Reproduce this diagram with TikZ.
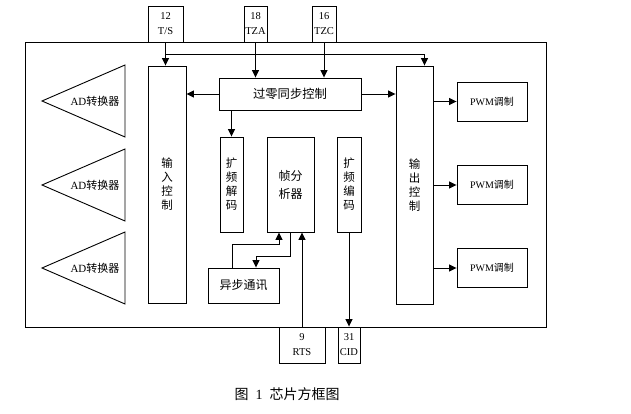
\documentclass[tikz,border=0pt]{standalone}
\usepackage{fontspec}
\setmainfont{Liberation Serif}
\newfontfamily\cjk{Noto Sans CJK SC}
\usetikzlibrary{arrows.meta, calc}

\begin{document}
\begin{tikzpicture}[x=1pt, y=-1pt,
    line width=0.9pt,
    blk/.style={draw, inner sep=0pt, align=center, font=\cjk\fontsize{11.5}{14}\selectfont},
    pin/.style={draw, inner sep=0pt, align=center, minimum height=36pt, font=\fontsize{10.5}{15}\selectfont},
    arr/.style={-{Triangle[length=7.5pt, width=7pt]}}]
    \useasboundingbox (0,0) rectangle (631,414);

    % Chip border
    \draw (25,42) rectangle (546,327);

    % Pins
    \node[pin, minimum width=35pt] (ts)  at (165.5,24) {12\\T/S};
    \node[pin, minimum width=23pt] (tza) at (255.5,24) {18\\TZA};
    \node[pin, minimum width=24pt] (tzc) at (324,24)   {16\\TZC};
    \node[pin, minimum width=46pt] (rts) at (302,345)  {9\\RTS};
    \node[pin, minimum width=22pt] (cid) at (349,345)  {31\\CID};

    % AD converters
    \foreach \y in {101,185,268} {
        \draw (125,\y-36) -- (42,\y) -- (125,\y+36) -- cycle;
        \node[font=\fontsize{11}{12}\selectfont] at (95,\y) {AD{\cjk 转换器}};
    }

    % Control blocks
    \node[blk, minimum width=38pt, minimum height=237pt] (in)  at (167,184.5)   {输\\入\\控\\制};
    \node[blk, minimum width=37pt, minimum height=238pt] (out) at (414.5,185)   {输\\出\\控\\制};
    \node[blk, minimum width=142pt, minimum height=32pt, font=\cjk\fontsize{12.3}{14}\selectfont] (sync) at (290,94) {过零同步控制};
    \node[blk, minimum width=23pt, minimum height=95pt] (dec)   at (231.5,184.5) {扩\\频\\解\\码};
    \node[blk, minimum width=47pt, minimum height=95pt, font=\cjk\fontsize{12}{18}\selectfont] (frame) at (290.5,184.5) {帧分\\析器};
    \node[blk, minimum width=24pt, minimum height=95pt] (enc)   at (349,184.5)   {扩\\频\\编\\码};
    \node[blk, minimum width=71pt, minimum height=35pt, font=\cjk\fontsize{12}{14}\selectfont] (async) at (243.5,285.5) {异步通讯};

    % PWM blocks
    \foreach \i/\y in {1/101.5,2/185,3/268} {
        \node[draw, minimum width=70pt, minimum height=39pt, inner sep=0pt,
              font=\fontsize{10}{11}\selectfont] (pwm\i) at (492,\y) {PWM{\cjk 调制}};
        \draw[arr] (out.east |- pwm\i.west) -- (pwm\i.west);
    }

    % Signals
    \coordinate (br) at (165.5,54);
    \draw[arr] (ts.south) -- (in.north -| ts.south);
    \draw[arr] (br) -| ([xshift=10pt]out.north);
    \draw[arr] (tza.south) -- (tza.south |- sync.north);
    \draw[arr] (tzc.south) -- (tzc.south |- sync.north);
    \draw[arr] (sync.west) -- (sync.west -| in.east);
    \draw[arr] (sync.east) -- (sync.east -| out.west);
    \draw[arr] (sync.south -| dec.north) -- (dec.north);
    \draw[arr] ([xshift=-11.5pt]async.north) -- ++(0,-23) -| ([xshift=-11.5pt]frame.south);
    \draw[arr] (frame.south) -- ++(0,24) -| ([xshift=12.5pt]async.north);
    \draw[arr] (rts.north) -- (rts.north |- frame.south);
    \draw[arr] (enc.south) -- (enc.south |- cid.north);

    \node[font=\fontsize{14}{16}\selectfont] (cap) at (287,394) {{\cjk 图}\ \ 1\ \ {\cjk 芯片方框图}};
\end{tikzpicture}
\end{document}
